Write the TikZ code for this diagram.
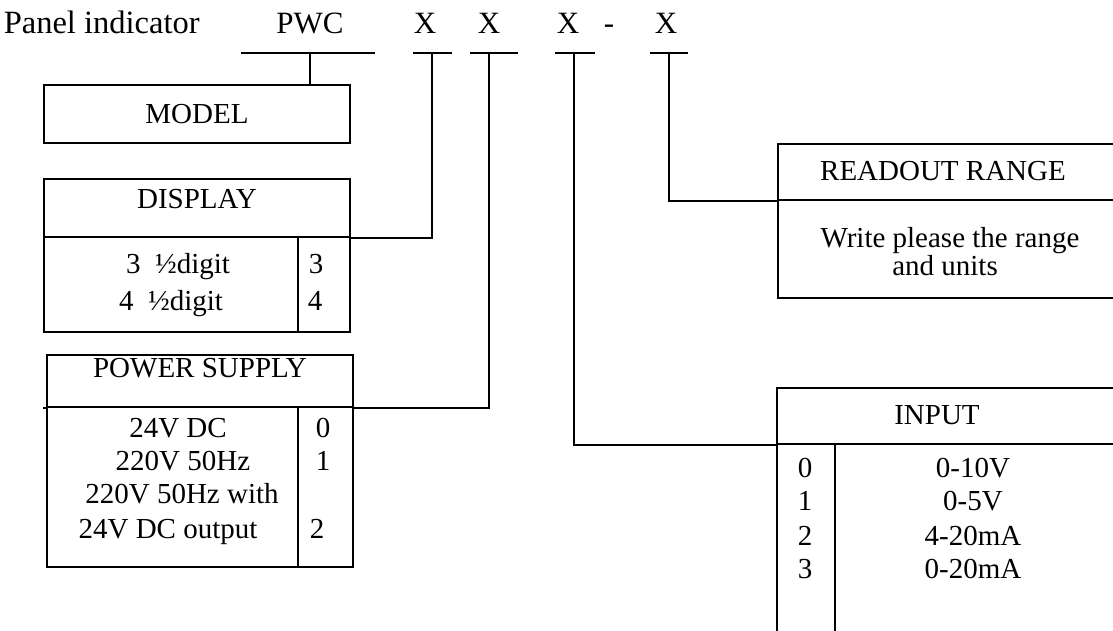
\documentclass[tikz,border=0pt]{standalone}
\usepackage{fontspec}
\setmainfont{Liberation Serif}
\usetikzlibrary{positioning}

\begin{document}
\begin{tikzpicture}[x=1pt,y=-1pt,line width=1.6pt,
  every node/.style={inner sep=0pt,font=\fontsize{29}{34}\selectfont},
  box/.style={draw,rectangle,minimum width=306pt},
  big/.style={font=\fontsize{31}{36}\selectfont,anchor=base},
  row/.style={anchor=base}]
\useasboundingbox (0,0) rectangle (1113,630);
\clip (0,0) rectangle (1113,630);

% code line
\node[big,anchor=base west,font=\fontsize{32.5}{36}\selectfont] (title) at (3,33) {Panel indicator};
\node[big] (pwc) at (310,33) {PWC};
\node[big] (c1) at (425,33) {X};
\node[big] (c2) at (489,33) {X};
\node[big] (c3) at (568,33) {X};
\node[big] (dash) at (609,33) {-};
\node[big] (c4) at (666,33) {X};

\foreach \u/\x/\l/\r in {u0/310/241/375,u1/432/413/452,u2/489/470/518,u3/574/555/595,u4/669/650/688}{
  \coordinate (\u) at (\x,53);
  \draw (\l,53) -- (\r,53);
}

% model
\node[box,minimum height=58pt] (model) at (197,114) {MODEL};

% display
\node[box,minimum height=58pt,text height=10pt,text depth=10pt] (disphead) at (197,208) {DISPLAY};
\node[box,minimum height=95pt] (dispbody) at (197,284.5) {};
\draw ([xshift=101pt]dispbody.north) -- ([xshift=101pt]dispbody.south);
\node[row] (d3) at (178,273) {3~~½digit};
\node[row] (d4) at (171,310) {4~~½digit};
\node[row] (n3) at (316,273) {3};
\node[row] (n4) at (315,310) {4};

% power supply
\node[box,minimum height=52pt,text height=10pt,text depth=18pt] (pwrhead) at (200,381) {POWER SUPPLY};
\node[box,minimum height=160pt] (pwrbody) at (200,487) {};
\draw (pwrhead.south west) -- ++(-3,0);
\draw ([xshift=98pt]pwrbody.north) -- ([xshift=98pt]pwrbody.south);
\node[row] (p0) at (178,437) {24V DC};
\node[row] (p1) at (183,470) {220V 50Hz};
\node[row] (p2a) at (182,503) {220V 50Hz with};
\node[row] (p2b) at (168,538) {24V DC output};
\node[row] (m0) at (323,437) {0};
\node[row] (m1) at (323,470) {1};
\node[row] (m2) at (317,538) {2};

% readout range
\node[box,minimum width=400pt,minimum height=56pt] (rdhead) at (978,172) {};
\node[row] (rdtitle) at (943,180) {READOUT RANGE};
\node[box,minimum width=400pt,minimum height=98pt] (rdbody) at (978,249) {};
\node[row] (rd1) at (950,247) {Write please the range};
\node[row] (rd2) at (945,275) {and units};

% input
\node[box,minimum width=400pt,minimum height=56pt] (inhead) at (977,416) {};
\node[row] (intitle) at (937,424) {INPUT};
\node[box,minimum width=400pt,minimum height=256pt] (inbody) at (977,572) {};
\draw ([xshift=-142pt]inbody.north) -- ([xshift=-142pt]inbody.south);
\foreach \n/\v/\y in {0/0-10V/477,1/0-5V/510,2/4-20mA/545,3/0-20mA/578}{
  \node[row] (i\n) at (805,\y) {\n};
  \node[row] (v\n) at (973,\y) {\v};
}

\draw (u0) -- (u0 |- model.north);
\foreach \from/\to in {u1/disphead.south east,u2/pwrhead.south east,u3/inhead.south west,u4/rdhead.south west}
\draw (\from) |- (\to);
\end{tikzpicture}
\end{document}
